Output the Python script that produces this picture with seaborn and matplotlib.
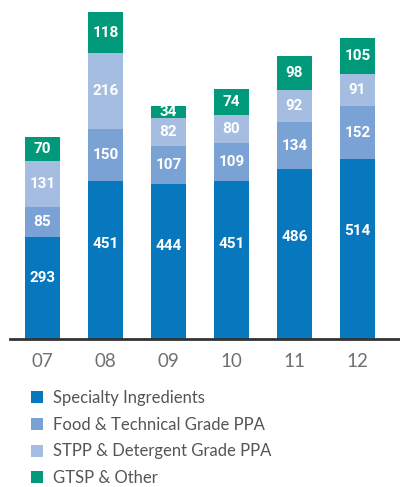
import numpy as np
import pandas as pd
import matplotlib
matplotlib.use('Agg')
import matplotlib.pyplot as plt
import seaborn as sns
from matplotlib.patches import Patch

# Data
years = ['07', '08', '09', '10', '11', '12']
series = ['Specialty Ingredients', 'Food & Technical Grade PPA',
          'STPP & Detergent Grade PPA', 'GTSP & Other']
specialty = [293, 451, 444, 451, 486, 514]
food_tech = [85, 150, 107, 109, 134, 152]
stpp = [131, 216, 82, 80, 92, 91]
gtsp = [70, 118, 34, 74, 98, 105]
colors = ['#0878be', '#7ba2d5', '#a6bde2', '#009a7a']

values = np.array([specialty, food_tech, stpp, gtsp])
cum = values.cumsum(axis=0)

sns.set_style('white')
plt.rcParams['font.family'] = ['Lato', 'DejaVu Sans']

fig = plt.figure(figsize=(4.0, 4.87), dpi=100)
ax = fig.add_axes([0.025, 0.3039, 0.975, 0.6961])

# stacked bars: draw cumulative totals from the top series down
for i in range(len(series) - 1, -1, -1):
    df = pd.DataFrame({'year': years, 'total': cum[i]})
    sns.barplot(data=df, x='year', y='total', color=colors[i],
                width=0.556, saturation=1, ax=ax, linewidth=0)

# value labels
for i in range(len(series)):
    for j, yr in enumerate(years):
        base = cum[i][j] - values[i][j]
        frac = 0.6 if i == 0 else 0.5
        ax.text(j, base + values[i][j] * frac, str(values[i][j]),
                ha='center', va='center', color='white', fontsize=11,
                fontweight='bold', family=['Roboto', 'DejaVu Sans'])

ax.set_xlim(-0.516, 5.675)
ax.set_ylim(0, 970)
ax.set_xlabel('')
ax.set_ylabel('')
ax.set_yticks([])
for s in ['top', 'right', 'left']:
    ax.spines[s].set_visible(False)
ax.spines['bottom'].set_color('#333333')
ax.spines['bottom'].set_linewidth(2)
ax.tick_params(axis='x', length=0, pad=10, labelsize=13.5, labelcolor='#707070')

handles = [Patch(facecolor=c, edgecolor='none') for c in colors]
fig.legend(handles, series, loc='upper left', bbox_to_anchor=(0.077, 0.199),
           frameon=False, fontsize=12, handlelength=0.72, handleheight=0.72,
           handletextpad=0.6, labelspacing=0.64, borderpad=0, borderaxespad=0,
           labelcolor='#555555')

fig.savefig('out.png', dpi=100)
